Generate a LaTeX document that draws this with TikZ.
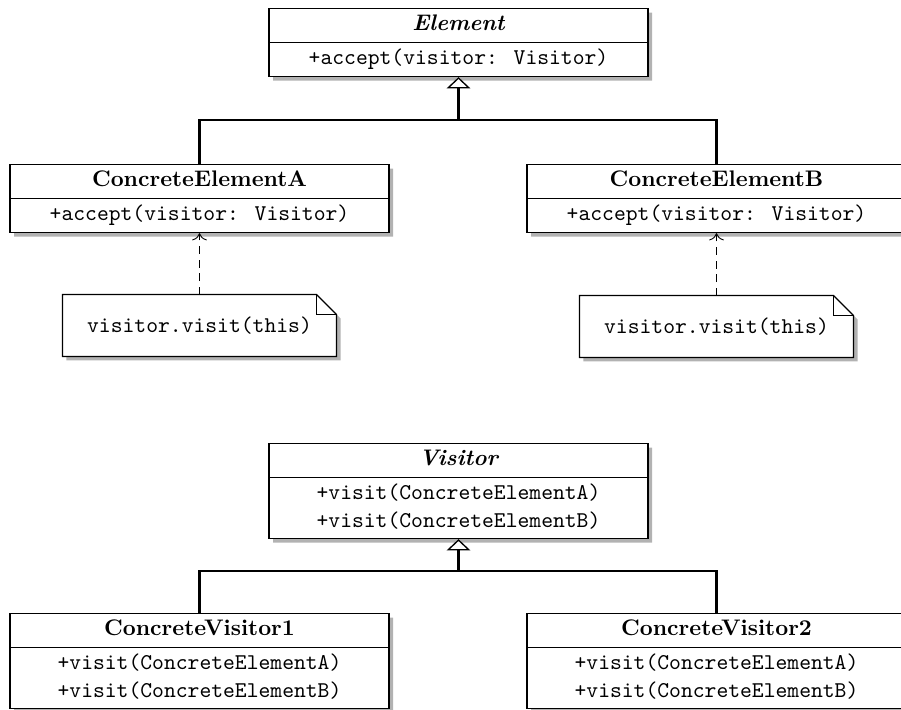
\documentclass[tikz,border=0pt]{standalone}
\usepackage{amsmath,amssymb}
\usepackage{tikz}
\usetikzlibrary{arrows.meta,positioning,shapes.multipart,shadows,backgrounds}

\begin{document}
\begin{tikzpicture}[x=0.444pt, y=-0.444pt,
	umlclass/.style={rectangle split, rectangle split parts=2, draw, fill=white,
		line width=0.5pt, minimum width=168.3pt, inner xsep=2pt, inner ysep=1.3pt,
		anchor=north,
		drop shadow={shadow xshift=1.8pt, shadow yshift=-1.8pt, fill=black!30, opacity=1}},
	umlnote/.style={minimum width=121.3pt, minimum height=27.1pt, inner sep=0pt,
		font=\ttfamily},
	inherit/.style={line width=0.9pt},
	realize/.style={dash pattern=on 3.5pt off 2.5pt, line width=0.4pt,
		-{To[length=3.2pt, width=6.5pt]}}
]
	\useasboundingbox (0,0) rectangle (901,710);

	% Element hierarchy
	\node[umlclass] (element) at (458.5,8)
		{\bfseries\itshape\strut Element
		\nodepart{two}\ttfamily\strut +accept(visitor: Visitor)};
	\node[umlclass] (ceA) at (199.5,164)
		{\bfseries\strut ConcreteElementA
		\nodepart{two}\ttfamily\strut +accept(visitor: Visitor)};
	\node[umlclass] (ceB) at (716.5,164)
		{\bfseries\strut ConcreteElementB
		\nodepart{two}\ttfamily\strut +accept(visitor: Visitor)};

	\coordinate (elemjoin) at (458.5,120);
	\draw[inherit] (ceA.north) |- (elemjoin) -| (ceB.north);
	\draw[inherit, -{Triangle[open, fill=white, line width=0.6pt, length=5pt, width=10.5pt]}]
		(elemjoin) -- (element.south);

	% Notes on accept()
	\node[umlnote] (noteA) at (199.5,325.5) {visitor.visit(this)};
	\node[umlnote] (noteB) at (716.5,326.5) {visitor.visit(this)};

	\begin{scope}[on background layer]
		\fill[black!30] ([shift={(4,4)}]noteA.north west) -- ([shift={(-16,4)}]noteA.north east)
			-- ([shift={(4,24)}]noteA.north east) -- ([shift={(4,4)}]noteA.south east)
			-- ([shift={(4,4)}]noteA.south west) -- cycle;
		\draw[fill=white, line width=0.5pt] (noteA.north west) -- ([xshift=-8.9pt]noteA.north east)
			-- ([yshift=-8.9pt]noteA.north east) -- (noteA.south east) -- (noteA.south west) -- cycle;
		\draw[line width=0.5pt] ([xshift=-8.9pt]noteA.north east) |- ([yshift=-8.9pt]noteA.north east);

		\fill[black!30] ([shift={(4,4)}]noteB.north west) -- ([shift={(-16,4)}]noteB.north east)
			-- ([shift={(4,24)}]noteB.north east) -- ([shift={(4,4)}]noteB.south east)
			-- ([shift={(4,4)}]noteB.south west) -- cycle;
		\draw[fill=white, line width=0.5pt] (noteB.north west) -- ([xshift=-8.9pt]noteB.north east)
			-- ([yshift=-8.9pt]noteB.north east) -- (noteB.south east) -- (noteB.south west) -- cycle;
		\draw[line width=0.5pt] ([xshift=-8.9pt]noteB.north east) |- ([yshift=-8.9pt]noteB.north east);
	\end{scope}

	\draw[realize] (noteA.north) -- (ceA.south);
	\draw[realize] (noteB.north) -- (ceB.south);

	% Visitor hierarchy
	\node[umlclass] (visitor) at (458.5,443)
		{\bfseries\itshape\strut Visitor
		\nodepart{two}\ttfamily\begin{tabular}{@{}c@{}}+visit(ConcreteElementA)\\+visit(ConcreteElementB)\end{tabular}};
	\node[umlclass] (cv1) at (199.5,613)
		{\bfseries\strut ConcreteVisitor1
		\nodepart{two}\ttfamily\begin{tabular}{@{}c@{}}+visit(ConcreteElementA)\\+visit(ConcreteElementB)\end{tabular}};
	\node[umlclass] (cv2) at (716.5,613)
		{\bfseries\strut ConcreteVisitor2
		\nodepart{two}\ttfamily\begin{tabular}{@{}c@{}}+visit(ConcreteElementA)\\+visit(ConcreteElementB)\end{tabular}};

	\coordinate (visjoin) at (458.5,571);
	\draw[inherit] (cv1.north) |- (visjoin) -| (cv2.north);
	\draw[inherit, -{Triangle[open, fill=white, line width=0.6pt, length=5pt, width=10.5pt]}]
		(visjoin) -- (visitor.south);
\end{tikzpicture}
\end{document}
